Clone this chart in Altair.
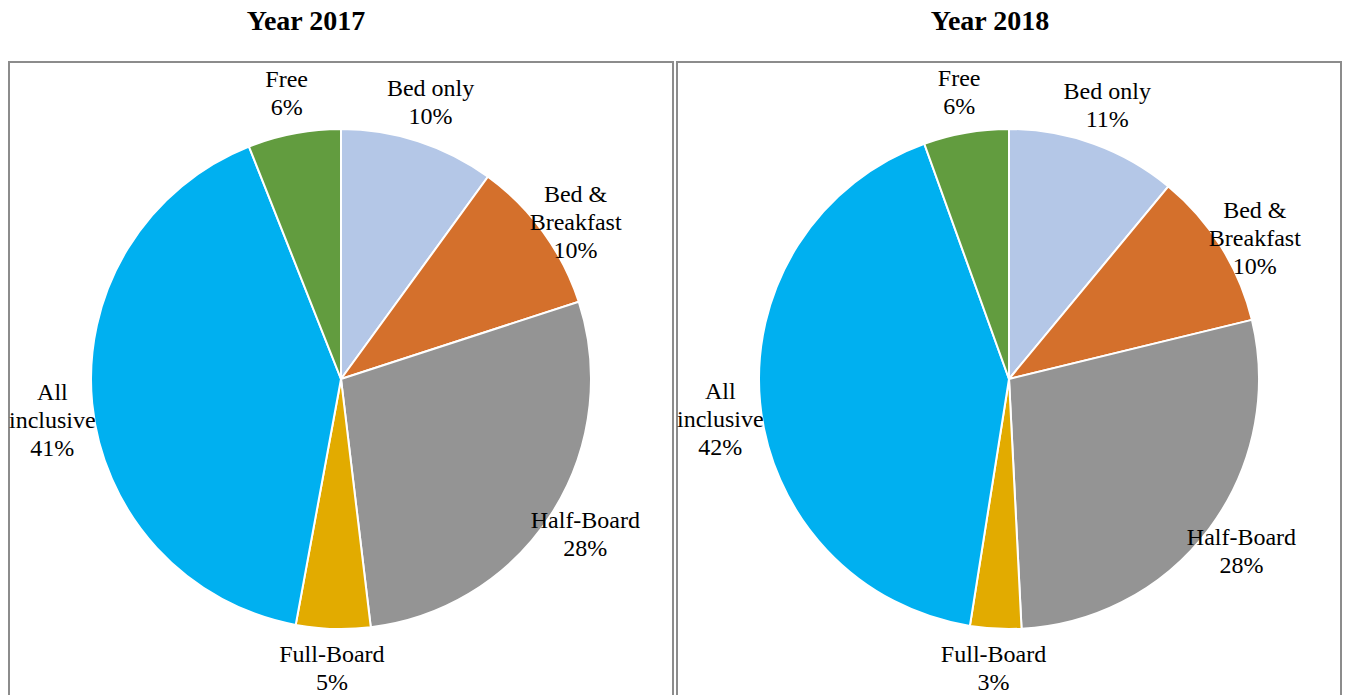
import altair as alt
import pandas as pd

categories = ["Bed only", "Bed & Breakfast", "Half-Board", "Full-Board", "All inclusive", "Free"]
label_names = ["Bed only", "Bed &\nBreakfast", "Half-Board", "Full-Board", "All\ninclusive", "Free"]
values_2017 = [10.0, 10.0, 28.1, 4.8, 41.1, 6.0]
values_2018 = [11.0, 10.2, 28.0, 3.3, 42.0, 5.5]
pct_2017 = ["10%", "10%", "28%", "5%", "41%", "6%"]
pct_2018 = ["11%", "10%", "28%", "3%", "42%", "6%"]
colors = ["#B4C7E7", "#D4702C", "#949494", "#E2AB00", "#00B0F0", "#629C3F"]

FONT = "Liberation Serif"
W, H = 664, 634


def make_df(values, pcts):
    return pd.DataFrame({
        "idx": list(range(len(categories))),
        "category": categories,
        "value": values,
        "label": [n + "\n" + p for n, p in zip(label_names, pcts)],
    })


def pie(values, pcts, title, dx):
    df = make_df(values, pcts)
    base = alt.Chart(df).encode(
        theta=alt.Theta("value:Q", stack=True),
        order=alt.Order("idx:Q"),
    )
    arcs = base.mark_arc(outerRadius=250, stroke="white", strokeWidth=2).encode(
        color=alt.Color("category:N", scale=alt.Scale(domain=categories, range=colors), legend=None)
    )
    texts = base.mark_text(radius=290, dy=-14, font=FONT, fontSize=24, lineBreak="\n",
                           lineHeight=28, color="black", baseline="middle").encode(
        text="label:N"
    )
    frame = alt.Chart(pd.DataFrame({"f": [0]})).mark_rect(
        filled=False, stroke="#8c8c8c", strokeWidth=2
    ).encode(x=alt.value(0), x2=alt.value(W), y=alt.value(0), y2=alt.value(H + 20))
    return alt.layer(frame, arcs, texts).properties(
        width=W, height=H,
        title=alt.TitleParams(title, font=FONT, fontSize=28, fontWeight="bold",
                              color="black", dx=dx, offset=25),
    )


chart = alt.hconcat(
    pie(values_2017, pct_2017, "Year 2017", -35),
    pie(values_2018, pct_2018, "Year 2018", -19),
    spacing=2,
).properties(padding=0).configure_view(stroke=None)

chart.save("out.html", embed_options={"renderer": "svg", "actions": False})
